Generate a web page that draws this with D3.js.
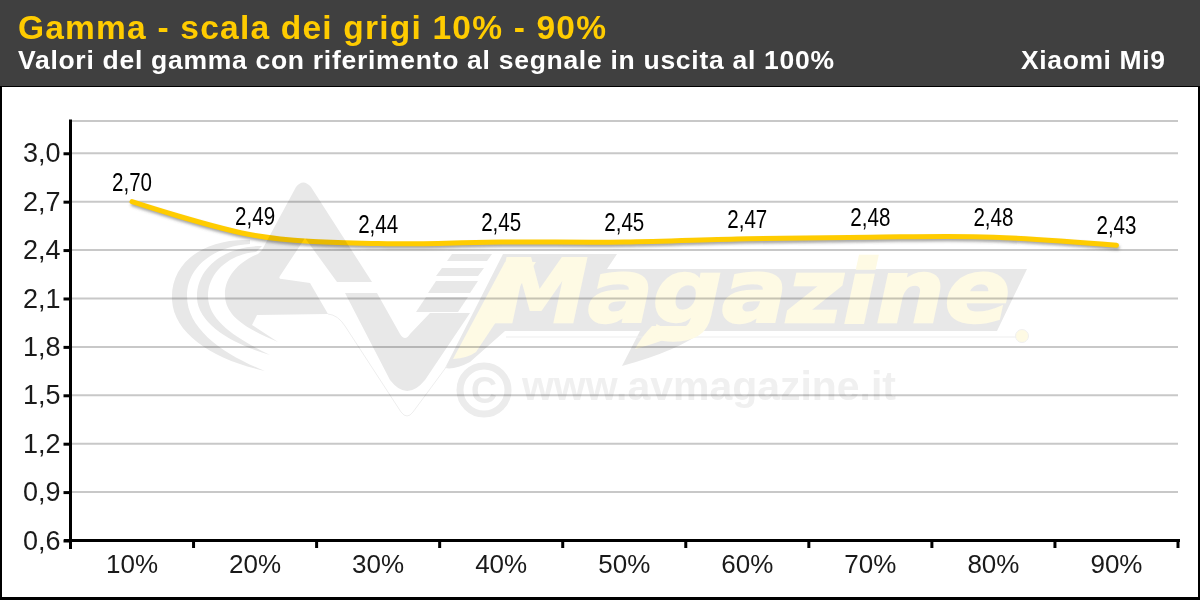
<!DOCTYPE html>
<html><head><meta charset="utf-8">
<script src="https://cdn.jsdelivr.net/npm/d3@7"></script>
<style>
html,body{margin:0;padding:0;background:#fff;overflow:hidden}
svg{display:block}
text{font-family:"Liberation Sans",Arial,sans-serif}
</style></head><body>
<svg id="c" width="1200" height="600"></svg>
<script>
const categories = ["10%","20%","30%","40%","50%","60%","70%","80%","90%"];
const gammaValues = [2.70,2.49,2.44,2.45,2.45,2.47,2.48,2.48,2.43];
const yTicks = [0.6,0.9,1.2,1.5,1.8,2.1,2.4,2.7,3.0];
const yMin = 0.6, yMax = 3.2;
const titleText = "Gamma - scala dei grigi 10% - 90%";
const subtitleText = "Valori del gamma con riferimento al segnale in uscita al 100%";
const deviceText = "Xiaomi Mi9";

const comma = v => v.toFixed(1).replace(".", ",");
const comma2 = v => v.toFixed(2).replace(".", ",");

const svg = d3.select("#c");
const defs = svg.append("defs");
defs.append("filter").attr("id","sh").attr("x","-5%").attr("y","-200%").attr("width","110%").attr("height","500%")
  .append("feGaussianBlur").attr("stdDeviation",1.6);

// frame
svg.append("rect").attr("width",1200).attr("height",600).attr("fill","#000");
svg.append("rect").attr("x",2).attr("y",87).attr("width",1196).attr("height",510).attr("fill","#fff");
svg.append("rect").attr("width",1200).attr("height",86).attr("fill","#404040");

svg.append("text").attr("x",18).attr("y",39).attr("font-size",33.5).attr("font-weight","bold")
  .attr("fill","#FFCC00").attr("textLength",588).text(titleText);
svg.append("text").attr("x",18).attr("y",69).attr("font-size",26.5).attr("font-weight","bold")
  .attr("fill","#fff").attr("textLength",816).text(subtitleText);
svg.append("text").attr("x",1021).attr("y",69).attr("font-size",26.5).attr("font-weight","bold")
  .attr("fill","#fff").attr("textLength",144).text(deviceText);

// scales
const x = d3.scaleBand().domain(categories).range([70.5,1178]);
const y = d3.scaleLinear().domain([yMin,yMax]).range([540.5,121]);
const cx = c => x(c) + x.bandwidth()/2;

// grid
const gridValues = yTicks.slice(1).concat([yMax]);
svg.append("g").selectAll("line").data(gridValues).join("line")
  .attr("x1",71).attr("x2",1178).attr("y1",d=>y(d)).attr("y2",d=>y(d))
  .attr("stroke","#c8c8c8").attr("stroke-width",2);

// series
const lineGen = d3.line().x((d,i)=>cx(categories[i])).y(d=>y(d)).curve(d3.curveCatmullRom.alpha(0));
svg.append("path").attr("d",lineGen(gammaValues)).attr("fill","none").attr("stroke","#555")
  .attr("stroke-opacity",.55).attr("stroke-width",4.5).attr("stroke-linecap","round")
  .attr("transform","translate(1,2.5)").attr("filter","url(#sh)");
svg.append("path").attr("d",lineGen(gammaValues)).attr("fill","none").attr("stroke","#FFCC00")
  .attr("stroke-width",5).attr("stroke-linecap","round");

// axes
const yAxis = svg.append("g").attr("transform","translate(70.5,0)")
  .call(d3.axisLeft(y).tickValues(yTicks).tickFormat(comma).tickSize(7).tickPadding(3));
yAxis.select(".domain").remove();
yAxis.selectAll(".tick line").attr("stroke","#000").attr("stroke-width",3);
yAxis.selectAll(".tick text").attr("font-size",27).attr("fill","#1a1a1a")
  .style("font-family",'"Liberation Sans",Arial,sans-serif');
svg.append("line").attr("x1",70.5).attr("x2",70.5).attr("y1",119.5).attr("y2",549).attr("stroke","#000").attr("stroke-width",3);
svg.append("line").attr("x1",64).attr("x2",1180).attr("y1",540.5).attr("y2",540.5).attr("stroke","#000").attr("stroke-width",3);
const edges = categories.map(c=>x(c)).concat([x.range()[1]]);
svg.append("g").selectAll("line").data(edges).join("line")
  .attr("x1",d=>d).attr("x2",d=>d).attr("y1",540).attr("y2",548).attr("stroke","#000").attr("stroke-width",3);
svg.append("g").selectAll("text").data(categories).join("text")
  .attr("x",cx).attr("y",572.5).attr("text-anchor","middle").attr("font-size",26).attr("fill","#1a1a1a").text(d=>d);

// data labels
svg.append("g").selectAll("text").data(gammaValues).join("text")
  .attr("x",(d,i)=>cx(categories[i])).attr("y",d=>y(d)-11).attr("text-anchor","middle")
  .attr("font-size",25).attr("textLength",40).attr("lengthAdjust","spacingAndGlyphs")
  .attr("fill","#000").text(comma2);

// watermark (multiplied over the chart)
const wm = svg.append("g").style("mix-blend-mode","multiply");
const G = "#e8e8e8", CR = "#fefae4";
const shapes = [
 "M250,240 C205,238 170,262 172,300 C174,335 215,360 265,371 C225,355 187,330 187,296 C187,266 215,246 250,244 Z",
 "M262,246 C225,246 196,268 197,298 C198,325 235,345 270,355 C240,340 208,322 208,296 C208,272 230,254 256,252 Z",
 "M296,187 Q303,178 311,187 L372,282 L337,282 L305,238 L280,276 Q278,279 282,279 L310,283 L328,314 L257,315 L252,325 L278,342 C250,330 226,318 225,296 C224,278 238,262 258,254 L262,250 Z",
 "M345,293 L377,293 L400,334 Q405,342 410,334 L430,313 L470,313 L425,380 Q407,402 390,380 Z",
 "M452,254 L492,254 L487,261 L447,261 Z",
 "M442,268 L484,268 L478,276 L436,276 Z",
 "M436,281 L478,281 L470,293 L428,293 Z",
 "M426,297 L468,297 L458,312 L416,312 Z",
 "M503,254 L617,254 L607,269 L1027,269 L997,331 L505,331 L470,362 Q455,370 445,368 Z",
 "M640,331 L703,331 Q680,350 622,366 Z"
];
wm.selectAll("path.g").data(shapes).join("path").attr("class","g").attr("d",d=>d).attr("fill",G);
wm.append("path").attr("d","M328,314 Q338,315 345,326 L401,412 Q407,420 413,412 L447,366")
  .attr("fill","none").attr("stroke","#eee").attr("stroke-width",1);
wm.append("line").attr("x1",506).attr("x2",1016).attr("y1",337).attr("y2",337).attr("stroke","#eee").attr("stroke-width",1.2);
wm.append("circle").attr("cx",1022).attr("cy",336).attr("r",6.5).attr("fill",CR).attr("stroke","#f0f0f0");
wm.append("path").attr("d","M505,262 L536,262 L476,352 Q468,358 453,359 Z").attr("fill",CR);
wm.append("path").attr("d","M635,349 Q642,336 652,326 L690,326 Q670,340 635,349Z").attr("fill",CR);
wm.append("text").attr("x",492).attr("y",322).attr("font-size",88).attr("font-weight","bold").attr("font-style","italic")
  .style("font-family","'DejaVu Sans',sans-serif").attr("fill",CR).attr("stroke",CR).attr("stroke-width",2.5)
  .attr("textLength",518).attr("lengthAdjust","spacingAndGlyphs").text("Magazine");
wm.append("circle").attr("cx",484).attr("cy",390).attr("r",24).attr("fill","none").attr("stroke","#ececec").attr("stroke-width",7);
wm.append("text").attr("x",484).attr("y",403).attr("text-anchor","middle").attr("font-size",36).attr("font-weight","bold").attr("fill","#ececec").text("C");
wm.append("text").attr("x",522).attr("y",400).attr("font-size",40).attr("font-weight","bold").attr("fill","#f0f0f0")
  .attr("textLength",374).attr("lengthAdjust","spacingAndGlyphs").text("www.avmagazine.it");
</script></body></html>
